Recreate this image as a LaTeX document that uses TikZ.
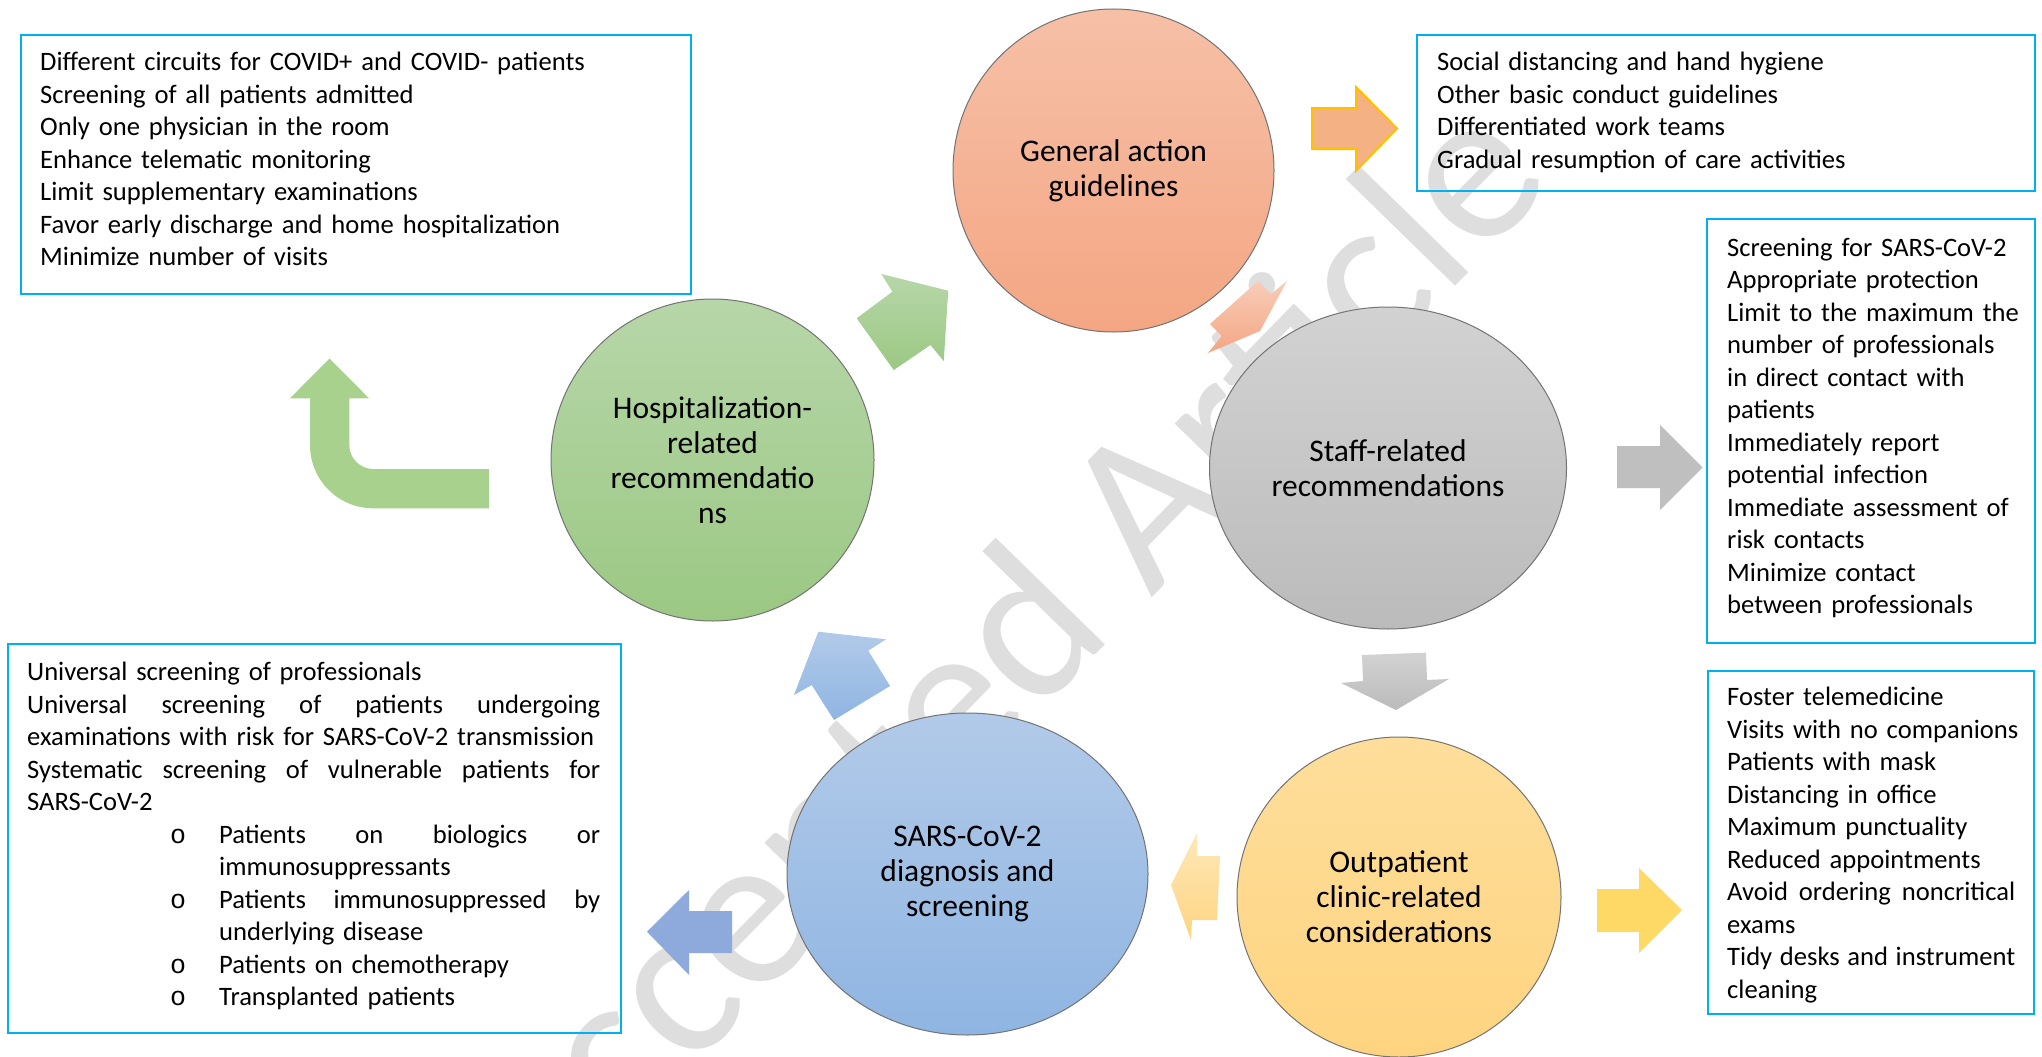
\documentclass[tikz,border=0pt]{standalone}
\usepackage{fontspec}
\setmainfont{Carlito}
\newfontfamily\bulletfont{Liberation Mono}
\usetikzlibrary{shapes.geometric}
\definecolor{boxblue}{RGB}{0,176,240}
\definecolor{wmgray}{RGB}{222,222,222}
\definecolor{orTop}{RGB}{246,192,167}
\definecolor{orBot}{RGB}{244,166,131}
\definecolor{grTop}{RGB}{183,214,169}
\definecolor{grBot}{RGB}{155,200,131}
\definecolor{gyTop}{RGB}{210,210,210}
\definecolor{gyBot}{RGB}{187,187,187}
\definecolor{blTop}{RGB}{178,202,233}
\definecolor{blBot}{RGB}{143,181,226}
\definecolor{yeTop}{RGB}{254,222,155}
\definecolor{yeBot}{RGB}{254,212,128}
\definecolor{arrOrange}{RGB}{244,177,131}
\definecolor{arrGold}{RGB}{255,192,0}
\definecolor{arrGray}{RGB}{191,191,191}
\definecolor{arrYellow}{RGB}{255,217,102}
\definecolor{arrBlue}{RGB}{142,169,219}
\definecolor{arrGreen}{RGB}{169,209,142}
\newcommand\jline[2]{\leavevmode\hbox to #1{#2}}
\newcommand\subbul{\leavevmode\hspace*{143pt}\hbox to 49pt{\bulletfont o\hfil}}
\begin{document}
\begin{tikzpicture}[x=1pt,y=-1pt,
  infobox/.style={draw=boxblue,line width=2.2pt,inner sep=0pt,anchor=north west},
  boxtext/.style={anchor=base west,inner sep=0pt,align=left,font=\fontsize{26.6}{32.5}\selectfont},
  circ/.style={ellipse,draw=black!55,line width=1pt,inner sep=0pt,align=center,font=\fontsize{31.5}{35}\selectfont},
  wmark/.style={text=wmgray,rotate=45.7,inner sep=0pt,font=\fontsize{220}{220}\selectfont}
]
\useasboundingbox (0,0) rectangle (2042,1057);
\fill[white] (0,0) rectangle (2042,1057);

% watermark
\node[wmark] (wm) at (1003,666) {Accepted Article};

% text boxes
\node[infobox,minimum width=670pt,minimum height=259pt] (b1) at (20,34) {};
\node[infobox,minimum width=618pt,minimum height=156pt] (b2) at (1416,34) {};
\node[infobox,minimum width=328pt,minimum height=424pt] (b3) at (1706,218) {};
\node[infobox,minimum width=613pt,minimum height=389pt] (b4) at (7,643) {};
\node[infobox,minimum width=326pt,minimum height=343pt] (b5) at (1707,670) {};

\node[boxtext,text width=630pt] (t1) at (40,70.5) {Different circuits for COVID+ and COVID- patients\\
Screening of all patients admitted\\
Only one physician in the room\\
Enhance telematic monitoring\\
Limit supplementary examinations\\
Favor early discharge and home hospitalization\\
Minimize number of visits};

\node[boxtext,text width=577pt] (t2) at (1437,70.5) {Social distancing and hand hygiene\\
Other basic conduct guidelines\\
Differentiated work teams\\
Gradual resumption of care activities};

\node[boxtext,text width=300pt] (t3) at (1727,256) {Screening for SARS-CoV-2\\
Appropriate protection\\
Limit to the maximum the\\
number of professionals\\
in direct contact with\\
patients\\
Immediately report\\
potential infection\\
Immediate assessment of\\
risk contacts\\
Minimize contact\\
between professionals};

\node[boxtext,text width=580pt] (t4) at (27,680.5) {Universal screening of professionals\\
\jline{573pt}{Universal\hfill screening\hfill of\hfill patients\hfill undergoing}\\
examinations with risk for SARS-CoV-2 transmission\\
\jline{573pt}{Systematic\hfill screening\hfill of\hfill vulnerable\hfill patients\hfill for}\\
SARS-CoV-2\\
\subbul\jline{381pt}{Patients\hfill on\hfill biologics\hfill or}\\
\hspace*{192pt}immunosuppressants\\
\subbul\jline{381pt}{Patients\hfill immunosuppressed\hfill by}\\
\hspace*{192pt}underlying disease\\
\subbul Patients on chemotherapy\\
\subbul Transplanted patients};

\node[boxtext,text width=300pt] (t5) at (1727,705.5) {Foster telemedicine\\
Visits with no companions\\
Patients with mask\\
Distancing in office\\
Maximum punctuality\\
Reduced appointments\\
\jline{288pt}{Avoid\hfill ordering\hfill noncritical}\\
exams\\
\jline{288pt}{Tidy\hfill desks\hfill and\hfill instrument}\\
cleaning};

% block arrows
\path[fill=arrOrange,draw=arrGold,line width=2pt] (1312,108) -- (1356,108) -- (1356,87) -- (1397,128.5) -- (1356,171) -- (1356,149) -- (1312,149) -- cycle;
\path[top color=grTop,bottom color=grBot] (856.7,318.3) -- (892.4,291.7) -- (881.3,274) -- (948.2,290.7) -- (943.75,361) -- (930.4,345) -- (893.75,370) -- cycle;
\path[top color=orTop!80!white,bottom color=orBot] (1210,324) -- (1258,281) -- (1271,294) -- (1287,281) -- (1260,331) -- (1208,353) -- (1221.7,336) -- cycle;
\path[fill=arrGray] (1617,446) -- (1660,446) -- (1660,425) -- (1702.5,467.5) -- (1660,510) -- (1660,488) -- (1617,488) -- cycle;
\path[top color=gyTop,bottom color=gyBot] (1362,655) -- (1363,681) -- (1341,683) -- (1396,710) -- (1449,679) -- (1427,680) -- (1426,652.7) -- cycle;
\path[top color=yeTop!70!white,bottom color=yeBot] (1171,885) -- (1197,833) -- (1197,856) -- (1220,856) -- (1217,920) -- (1192,920) -- (1191,940) -- cycle;
\path[fill=arrYellow] (1597,889) -- (1639,889) -- (1639,868) -- (1682,910) -- (1639,953) -- (1639,932) -- (1597,932) -- cycle;
\path[top color=blTop,bottom color=blBot] (818.3,631.7) -- (886,639.3) -- (868.3,650.7) -- (890,686) -- (834,720) -- (811.7,685) -- (794,695) -- cycle;
\path[fill=arrBlue] (647,931.7) -- (689,890) -- (689,911) -- (732,911) -- (732,953) -- (689,953) -- (689,975) -- cycle;
\path[fill=arrGreen] (329.5,358.5) -- (369,398.3) -- (349.3,398.3) -- (349.3,445)
  .. controls (349.3,458.3) and (360,469) .. (373.3,469) -- (489,469) -- (489,508.3) -- (373.3,508.3)
  .. controls (338.3,508.3) and (310,480) .. (310,445) -- (310,398.3) -- (290,398.3) -- cycle;

% circles
\node[circ,minimum width=321pt,minimum height=323pt,top color=orTop,bottom color=orBot] (gen) at (1113.5,170.5) {General action\\guidelines};
\node[circ,minimum width=323pt,minimum height=322pt,top color=grTop,bottom color=grBot] (hosp) at (712.5,460) {Hospitalization-\\related\\recommendatio\\ns};
\node[circ,minimum width=357pt,minimum height=322pt,top color=gyTop,bottom color=gyBot] (staff) at (1388,468) {Staff-related\\recommendations};
\node[circ,minimum width=361pt,minimum height=322pt,top color=blTop,bottom color=blBot] (sars) at (967.5,874) {SARS-CoV-2\\diagnosis and\\screening};
\node[circ,minimum width=324pt,minimum height=320pt,top color=yeTop,bottom color=yeBot] (outp) at (1399,897) {Outpatient\\clinic-related\\considerations};
\end{tikzpicture}
\end{document}
